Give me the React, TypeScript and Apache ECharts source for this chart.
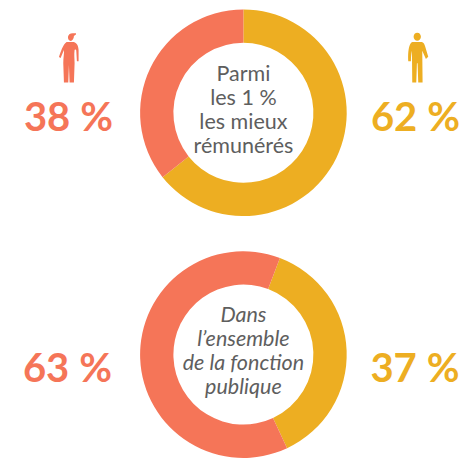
import React, { useEffect, useRef } from "react";
import * as echarts from "echarts";

const sliceNames = ["Hommes", "Femmes"];
const topValues = [64.3, 35.7];
const bottomValues = [37.3, 62.7];
const topLabels = ["38\u202f%", "62\u202f%"];
const bottomLabels = ["63\u202f%", "37\u202f%"];
const topCenterLines = ["Parmi", "les 1\u00a0%", "les mieux", "rémunérés"];
const bottomCenterLines = ["Dans", "l’ensemble", "de la fonction", "publique"];

const RED = "#F57558";
const YELLOW = "#EDAE22";
const GREY = "#5E5E5E";
const FONT = "Lato";

const womanPath =
  "M204 112 C204 104 212 99 220 100 L228 100 C230 103 226 106 222 108 C222 115 218 122 212 123 C207 122 204 118 204 112 Z " +
  "M200 126 L222 126 C230 129 235 135 236 150 L236 184 L231 184 L229 152 C228 148 226 148 224 150 C222 165 224 175 224 190 L222 248 L209 248 L207 195 L205 248 L192 248 L190 190 C190 172 193 160 192 150 L182 174 L177 171 C183 155 188 135 200 126 Z";
const manPath =
  "M221 50 C221 43 226 38 232 38 C238 38 243 43 243 50 C243 57 238 62 232 62 C226 62 221 57 221 50 Z " +
  "M218 66 L246 66 C252 68 254 74 256 80 L265 110 L258 117 L247 92 L248 188 L235 188 L233 130 L231 130 L229 188 L217 188 L216 92 C214 100 213 112 213 124 L205 124 C204 105 205 85 210 74 C212 70 214 67 218 66 Z";

echarts.graphic.registerShape("woman", echarts.graphic.extendPath(womanPath, {}) as any);
echarts.graphic.registerShape("man", echarts.graphic.extendPath(manPath, {}) as any);

function donut(values: number[], cy: number, startAngle: number) {
  return {
    type: "pie",
    center: [243.4, cy],
    radius: [70, 103.3],
    startAngle,
    clockwise: true,
    silent: true,
    label: { show: false },
    labelLine: { show: false },
    emphasis: { disabled: true },
    data: values.map((value, i) => ({
      name: sliceNames[i],
      value,
      itemStyle: { color: i === 0 ? YELLOW : RED },
    })),
  };
}

function pct(text: string, x: number, y: number, fill: string) {
  return {
    type: "text",
    x,
    y,
    style: { text, fill, font: `700 40px ${FONT}`, textAlign: "center", textVerticalAlign: "middle" },
  };
}

function center(lines: string[], y: number, italic: boolean) {
  return {
    type: "text",
    x: 243.4,
    y,
    style: {
      text: lines.join("\n"),
      fill: GREY,
      font: `${italic ? "italic " : ""}400 21.5px ${FONT}`,
      lineHeight: 24,
      textAlign: "center",
      textVerticalAlign: "middle",
    },
  };
}

export default function App() {
  const ref = useRef<HTMLDivElement>(null);
  useEffect(() => {
    const chart = echarts.init(ref.current!, undefined, { renderer: "svg" });
    chart.setOption({
      animation: false,
      backgroundColor: "#ffffff",
      series: [donut(topValues, 112.8, 90), donut(bottomValues, 354.6, 69.3)],
      graphic: [
        pct(topLabels[0], 68.5, 116, RED),
        pct(topLabels[1], 415.5, 116, YELLOW),
        pct(bottomLabels[0], 67.5, 367, RED),
        pct(bottomLabels[1], 415, 367, YELLOW),
        center(topCenterLines, 109, false),
        center(bottomCenterLines, 350, true),
        { type: "woman", x: 0, y: 0, scaleX: 1 / 3, scaleY: 1 / 3, style: { fill: RED } },
        { type: "man", x: 340, y: 20, scaleX: 1 / 3, scaleY: 1 / 3, style: { fill: YELLOW } },
      ],
    });
    return () => chart.dispose();
  }, []);
  return <div ref={ref} style={{ position: "absolute", left: 0, top: 0, width: 459, height: 458 }} />;
}
